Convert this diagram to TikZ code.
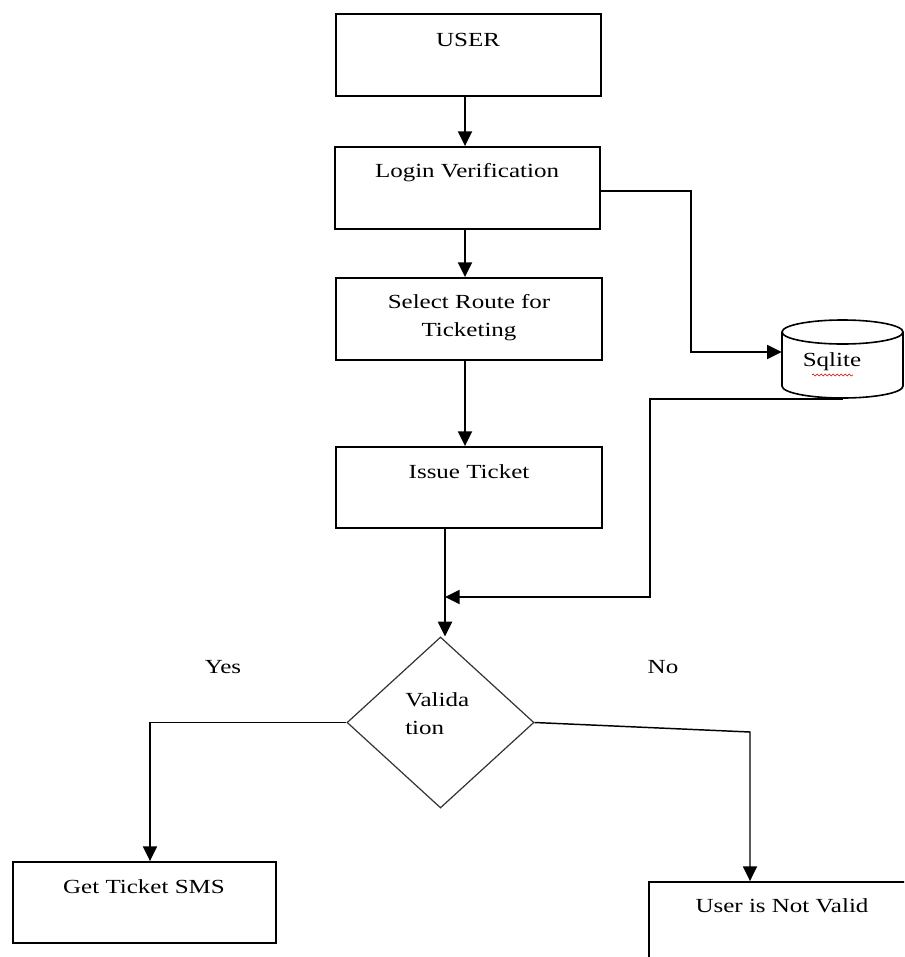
\documentclass[tikz,border=0pt]{standalone}
\usepackage{fontspec}
\setmainfont[FakeStretch=1.25]{Liberation Serif}
\usetikzlibrary{arrows.meta,fit,shapes.geometric,decorations.pathmorphing}
\begin{document}
\begin{tikzpicture}[x=0.75pt,y=0.75pt,
  box/.style={draw=black,line width=1.4pt,inner sep=0pt},
  txt/.style={font=\fontsize{15}{21}\selectfont,inner sep=0pt,text=black},
  arr/.style={draw=black,line width=1.4pt,-{Triangle[length=11pt,width=10.5pt]}},
  thin/.style={draw=black!85,line width=0.9pt}]
\useasboundingbox (0,0) rectangle (904,-957);
\clip (0,0) rectangle (904,-957);
\fill[white] (0,0) rectangle (904,-957);
% boxes
\node[box,fit={(336,-14) (601,-96)}] (user) {};
\node[box,fit={(335,-147) (600,-229)}] (login) {};
\node[box,fit={(336,-278) (602,-360)}] (route) {};
\node[box,fit={(336,-447) (602,-528)}] (issue) {};
\node[box,fit={(13,-862) (276,-943)}] (sms) {};
\node[box,fit={(649,-882) (980,-1010)}] (invalid) {};
% texts
\node[txt] (tuser) at (468,-40) {USER};
\node[txt] (tlogin) at (467,-173) {Login Verification};
\node[txt,align=center] (troute) at (469,-318) {Select Route for\\Ticketing};
\node[txt] (tissue) at (469,-472) {Issue Ticket};
\node[txt] (tsms) at (144,-887) {Get Ticket SMS};
\node[txt] (tinvalid) at (782,-906) {User is Not Valid};
% cylinder
\node[inner sep=0pt,fit={(782,-320) (903,-398)}] (db) {};
\draw[line width=1.2pt] (842.5,-332) ellipse (60.5 and 12);
\draw[line width=1.2pt] (782,-332) -- (782,-386) arc (180:360:60.5 and 12) -- (903,-332);
\node[txt] (tdb) at (832,-362) {Sqlite};
\draw[red!80!black,line width=0.4pt,decorate,decoration={snake,amplitude=0.8,segment length=3}] (812,-375) -- (853,-375);
% diamond
\node[draw=black!80,line width=0.9pt,diamond,inner sep=0pt,minimum width=140.25pt,minimum height=128.25pt] (val) at (440.5,-722.5) {};
\node[txt,align=left,anchor=west] (tval) at (405,-714) {Valida\\tion};
\node[txt] (yes) at (223,-667) {Yes};
\node[txt] (no) at (663,-667) {No};
% helper coordinates
\coordinate (c1) at (465,0);
\coordinate (c2) at (445,0);
\coordinate (k1) at (691,-191);
\coordinate (k2) at (691,-352);
\coordinate (k3) at (650,-399);
\coordinate (k4) at (650,-597);
\coordinate (k5) at (150,-725);
\coordinate (k6) at (750,-732);
% connectors
\draw[arr] (user.south -| c1) -- (login.north -| c1);
\draw[arr] (login.south -| c1) -- (route.north -| c1);
\draw[arr] (route.south -| c1) -- (issue.north -| c1);
\draw[arr] (issue.south -| c2) -- (val.north -| c2);
\draw[arr] (login.east |- k1) -- (k1) -- (k2) -- (k2 -| db.west);
\draw[arr] (db.south |- k3) -- (k3) -- (k4) -- (k4 -| c2);
\draw[arr,line width=1.1pt] (val.west) -| (sms.north -| k5);
\draw[arr,line width=1.1pt] (val.east) -- (k6) -- (invalid.north -| k6);
\end{tikzpicture}
\end{document}
